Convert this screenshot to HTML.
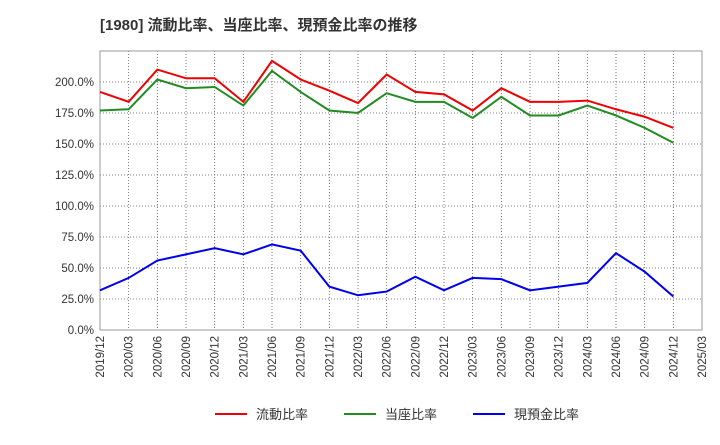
<!DOCTYPE html>
<html><head><meta charset="utf-8"><style>
body{margin:0;background:#fff;font-family:"Liberation Sans","Noto Sans CJK JP",sans-serif;}
</style></head><body>
<svg id="chart" width="720" height="440" xmlns="http://www.w3.org/2000/svg" font-family="Liberation Sans, Noto Sans CJK JP, sans-serif">
<text x="100" y="30" font-size="15" font-weight="bold" fill="#333">[1980]  流動比率、当座比率、現預金比率の推移</text>
<g id="grid"></g><g id="axes"></g><g id="series"></g>
<g font-size="13" fill="#333">
<line x1="215" y1="414" x2="247" y2="414" stroke="#e00" stroke-width="2"/><text x="256" y="419">流動比率</text>
<line x1="344" y1="414" x2="376" y2="414" stroke="#228b22" stroke-width="2"/><text x="385" y="419">当座比率</text>
<line x1="473" y1="414" x2="505" y2="414" stroke="#00e" stroke-width="2"/><text x="514" y="419">現預金比率</text>
</g>
</svg>
<script>
const categories=["2019/12","2020/03","2020/06","2020/09","2020/12","2021/03","2021/06","2021/09","2021/12","2022/03","2022/06","2022/09","2022/12","2023/03","2023/06","2023/09","2023/12","2024/03","2024/06","2024/09","2024/12","2025/03"];
const currentRatio=[192,184,210,203,203,184,217,202,193,183,206,192,190,177,195,184,184,185,178,172,163];
const quickRatio=[177,178,202,195,196,181,209,192,177,175,191,184,184,171,188,173,173,181,173,163,151];
const cashRatio=[32,42,56,61,66,61,69,64,35,28,31,43,32,42,41,32,35,38,62,47,27];
const yTicks=[0,25,50,75,100,125,150,175,200];
const X0=100,X1=702,Y0=330,YT=51,YMAX=225;
const xs=i=>X0+(X1-X0)*i/(categories.length-1);
const ys=v=>Y0-(Y0-YT)*v/YMAX;
const NS="http://www.w3.org/2000/svg";
function mk(t,a,p){const e=document.createElementNS(NS,t);for(const k in a)e.setAttribute(k,a[k]);p.appendChild(e);return e;}
const grid=document.getElementById('grid'),axes=document.getElementById('axes'),ser=document.getElementById('series');
yTicks.forEach(v=>{
 const l=mk('line',{x1:X0,x2:X1,y1:ys(v),y2:ys(v),stroke:'#555','stroke-dasharray':'1,2','stroke-width':0.8},grid);
 
 
 const t=mk('text',{x:X0-6,y:ys(v)+4,'text-anchor':'end','font-size':11.5,fill:'#333'},axes);
 t.textContent=v.toFixed(1)+'%';
 
 
});
categories.forEach((c,i)=>{
 const l=mk('line',{x1:xs(i),x2:xs(i),y1:YT,y2:Y0,stroke:'#555','stroke-dasharray':'1,2','stroke-width':0.8},grid);
 
 
 const t=mk('text',{x:0,y:0,'text-anchor':'end','font-size':11.5,fill:'#333',transform:`translate(${xs(i)+4},${Y0+6}) rotate(-90)`},axes);
 t.textContent=c;
 
 
});
const b=mk('rect',{x:X0,y:YT,width:X1-X0,height:Y0-YT,fill:'none',stroke:'#999'},axes);


[[currentRatio,'#e00','current-ratio-line'],[quickRatio,'#228b22','quick-ratio-line'],[cashRatio,'#00e','cash-ratio-line']].forEach(([d,c,n])=>{
 const p=mk('polyline',{points:d.map((v,i)=>xs(i)+','+ys(v)).join(' '),fill:'none',stroke:c,'stroke-width':2},ser);
 
 
});
</script>
</body></html>
